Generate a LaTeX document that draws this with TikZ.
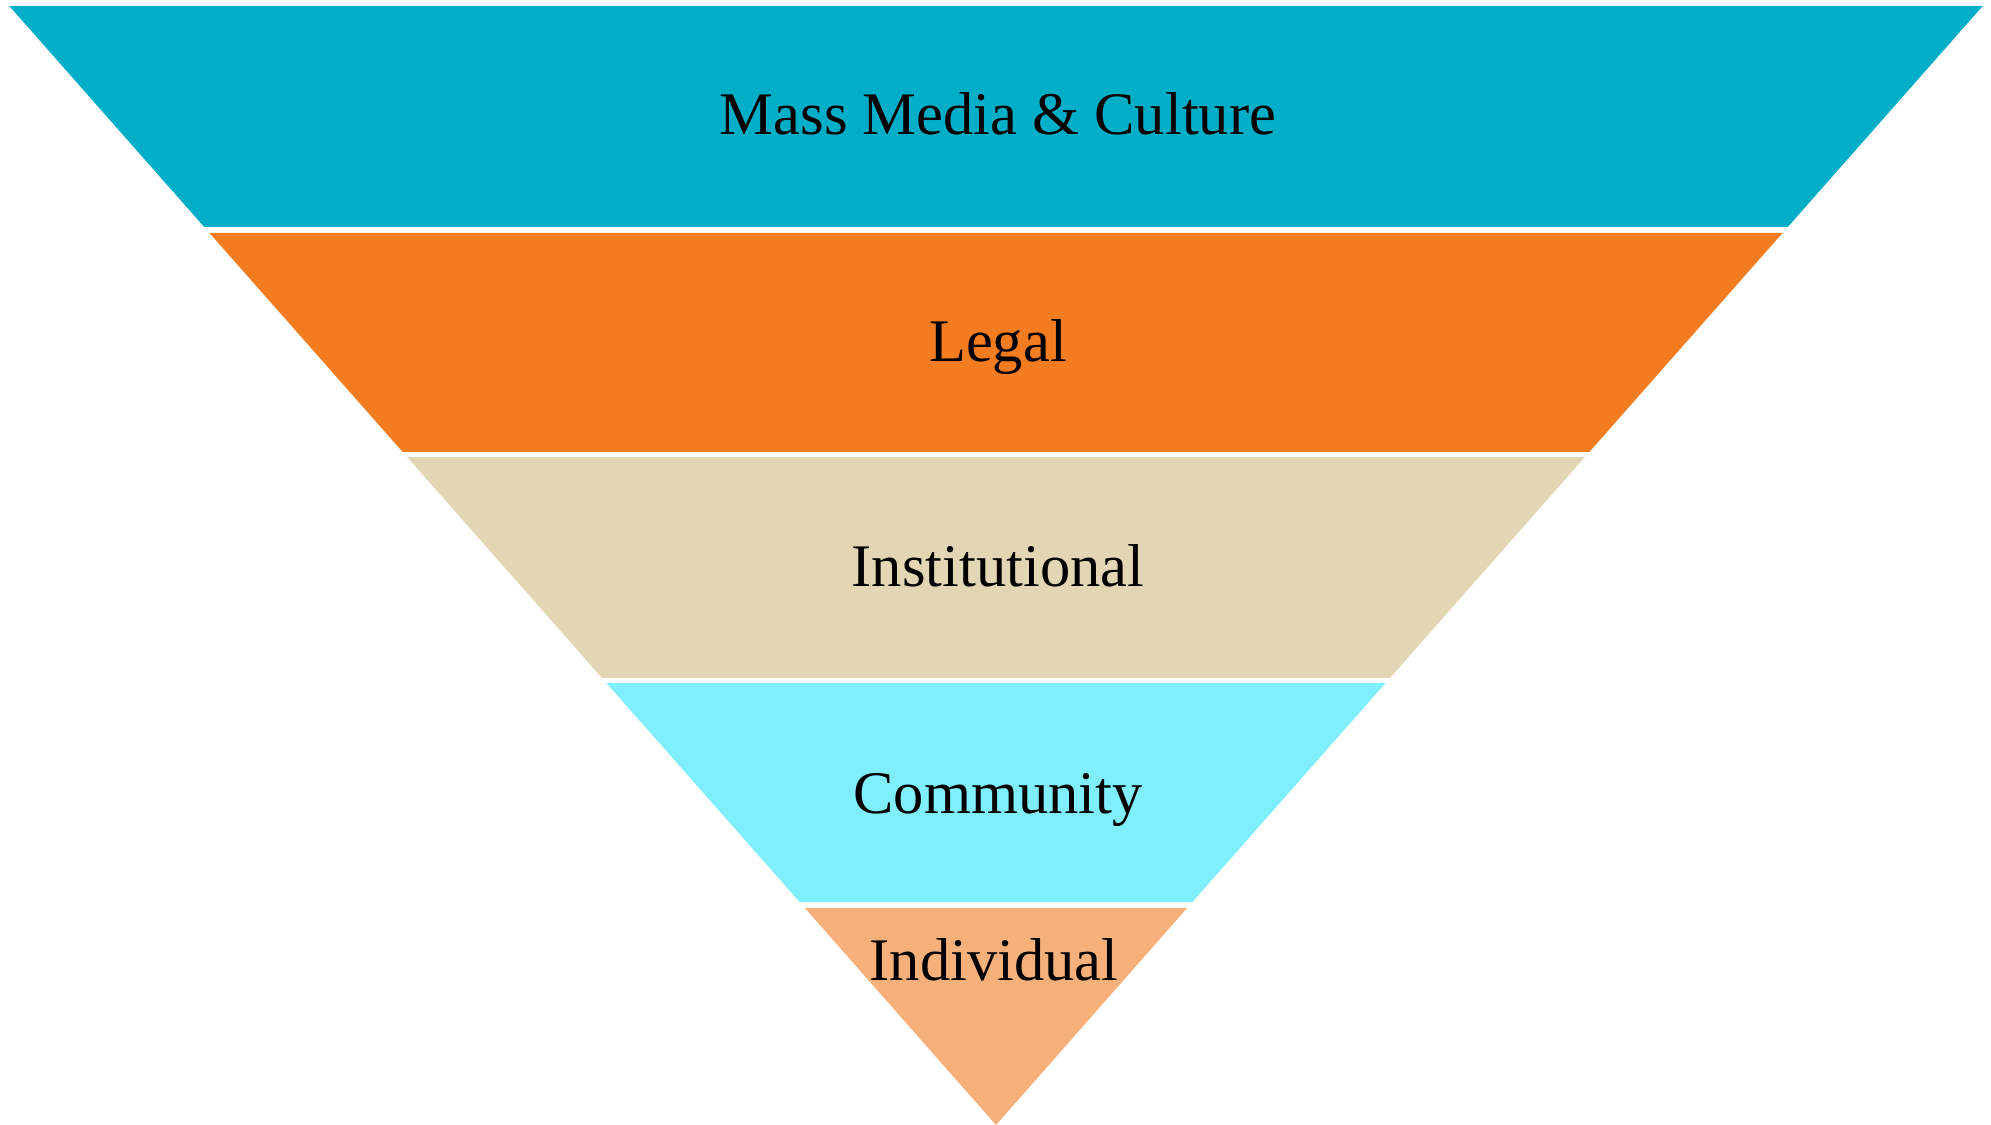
\documentclass[tikz,border=0pt]{standalone}
\usepackage{fontspec}
\setmainfont{Liberation Serif}
\definecolor{cTeal}{HTML}{00AEC7}
\definecolor{cOrange}{HTML}{F47C20}
\definecolor{cTan}{HTML}{E2D6B4}
\definecolor{cCyan}{HTML}{80EFFD}
\definecolor{cPeach}{HTML}{F7B07A}
\tikzset{
  band/.style={draw=none},
  lbl/.style={anchor=base, inner sep=0pt, font=\fontsize{17.2}{20}\selectfont, text=black}
}
\begin{document}
\begin{tikzpicture}[x=0.01cm,y=-0.01cm]
\useasboundingbox (0,0) rectangle (1991,1125);
\fill[band,cTeal] (9.3,6) -- (1982.7,6) -- (1787.8,227) -- (204.2,227) -- cycle;
\fill[band,cOrange] (209.5,233) -- (1782.5,233) -- (1589.3,452) -- (402.7,452) -- cycle;
\fill[band,cTan] (407.1,457) -- (1584.9,457) -- (1390,678) -- (602,678) -- cycle;
\fill[band,cCyan] (606.4,683) -- (1385.6,683) -- (1192.4,902) -- (799.6,902) -- cycle;
\fill[band,cPeach] (804.9,908) -- (1187.1,908) -- (996,1125) -- cycle;
\node[lbl] (l1) at (998,135) {Mass Media \& Culture};
\node[lbl] (l2) at (998,362) {Legal};
\node[lbl] (l3) at (998,587) {Institutional};
\node[lbl] (l4) at (998,813) {Community};
\node[lbl] (l5) at (994,980) {Individual};
\end{tikzpicture}
\end{document}
